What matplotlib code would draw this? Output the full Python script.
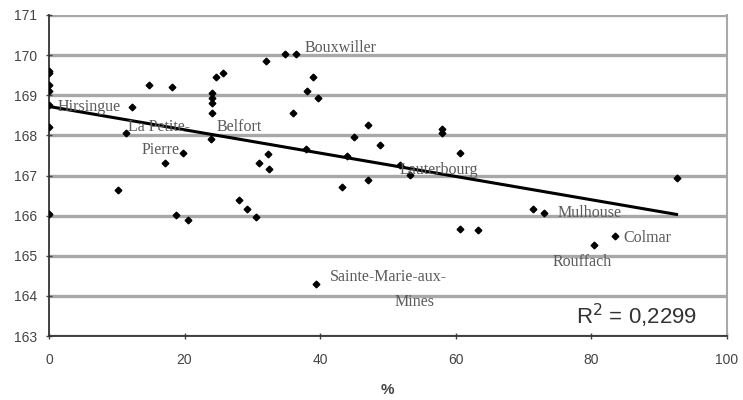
import matplotlib
matplotlib.use("Agg")
import matplotlib.pyplot as plt

# share of the population (%) and mean height (cm)
pct = [0, 0, 0, 0, 0, 0, 0, 10.2, 11.4, 12.2, 14.7, 17.1, 18.1, 18.7, 19.8,
       20.5, 23.9, 24.0, 24.0, 24.0, 24.0, 24.6, 25.7, 28.0, 29.2, 30.5,
       31.0, 32.0, 32.3, 32.5, 34.8, 36.0, 36.4, 37.9, 38.1, 38.9, 39.4,
       39.7, 43.2, 43.9, 45.0, 47.0, 47.0, 48.8, 51.8, 53.2, 58.0, 58.0,
       60.6, 60.6, 63.3, 71.4, 73.0, 80.4, 83.5, 92.6]
height = [169.6, 169.55, 169.25, 169.1, 168.75, 168.2, 166.05, 166.65, 168.07,
          168.7, 169.25, 167.3, 169.2, 166.02, 167.57, 165.9, 167.92, 169.05,
          168.92, 168.8, 168.57, 169.45, 169.55, 166.4, 166.17, 165.97, 167.3,
          169.85, 167.53, 167.15, 170.02, 168.55, 170.02, 167.65, 169.1, 169.45,
          164.3, 168.92, 166.72, 167.48, 167.97, 168.27, 166.9, 167.75, 167.25,
          167.02, 168.15, 168.07, 167.57, 165.67, 165.65, 166.17, 166.07,
          165.27, 165.5, 166.95]

# linear trend line as drawn (end points)
trend_x = [0, 92.6]
trend_y = [168.72, 166.03]

# town labels: text, x, y
town_names = ["Hirsingue", "La Petite-", "Pierre", "Belfort", "Bouxwiller",
              "Lauterbourg", "Mulhouse", "Colmar", "Rouffach",
              "Sainte-Marie-aux-", "Mines"]
town_x = [1.2, 11.6, 13.7, 24.8, 37.7, 51.8, 75.1, 84.7, 74.3, 41.4, 51.0]
town_y = [168.7, 168.2, 167.63, 168.2, 170.17, 167.13, 166.06, 165.44, 164.84,
          164.47, 163.84]

fig, ax = plt.subplots(figsize=(7.43, 4.0), dpi=100)
fig.subplots_adjust(left=0.066, right=0.978, top=0.9625, bottom=0.16)

# horizontal grid lines
for yv in range(163, 172):
    ax.axhline(yv, color="#a8a8a8", linewidth=2.4, zorder=0)

ax.plot(pct, height, linestyle="none", marker="D", markersize=3.4,
        color="black", zorder=3)
ax.plot(trend_x, trend_y, color="black", linewidth=2.2, zorder=2)

for name, tx, ty in zip(town_names, town_x, town_y):
    ax.text(tx, ty, name, fontsize=11.5, family="Liberation Serif",
            color="#5a5a5a", va="center", ha="left", zorder=4)

ax.text(95.6, 163.5, "R$^2$ = 0,2299", fontsize=16, family="Liberation Sans",
        ha="right", va="center", color="#333333")

ax.set_xlim(0, 100)
ax.set_ylim(163, 171)
ax.set_xticks([0, 20, 40, 60, 80, 100])
ax.set_yticks(range(163, 172))
ax.tick_params(labelsize=10, length=5, width=1, direction="inout",
               colors="#444444")
ax.tick_params(axis="y", pad=6)
ax.tick_params(axis="x", pad=10)
for lab in ax.get_xticklabels() + ax.get_yticklabels():
    lab.set_family("Liberation Sans")

ax.set_xlabel("%", fontsize=11, fontweight="bold", family="Liberation Sans",
              labelpad=11, color="#444444")

ax.spines["top"].set_visible(False)
ax.spines["right"].set_color("#a8a8a8")
ax.spines["right"].set_linewidth(1.5)
ax.spines["left"].set_color("#333333")
ax.spines["bottom"].set_color("#333333")
ax.spines["left"].set_linewidth(1.3)
ax.spines["bottom"].set_linewidth(1.3)

fig.savefig("out.png", dpi=100)
